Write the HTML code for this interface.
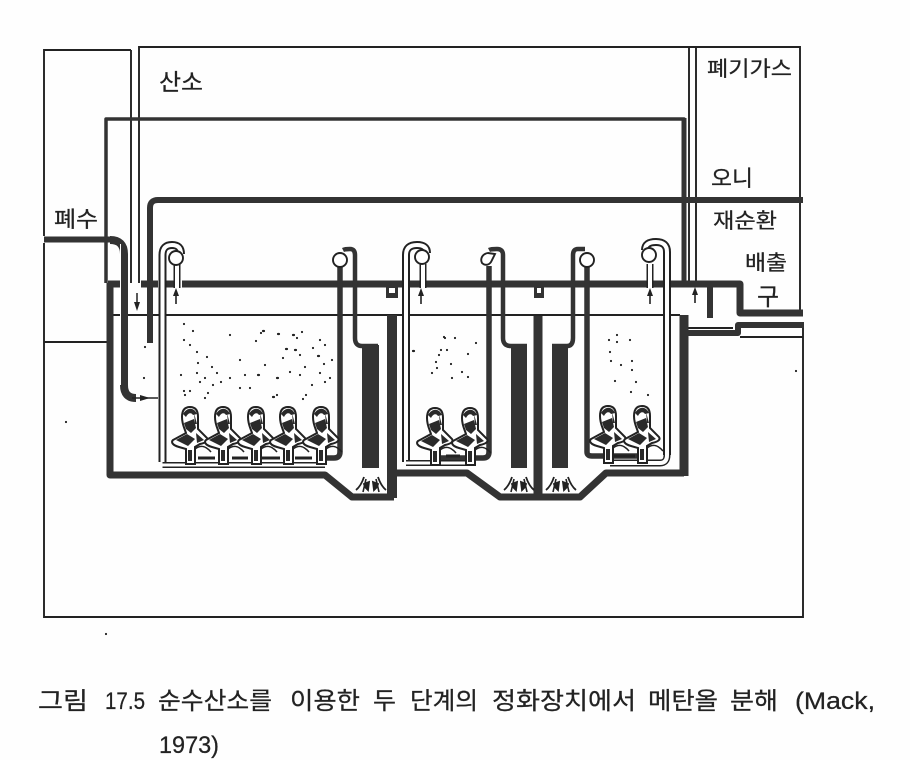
<!DOCTYPE html>
<html><head><meta charset="utf-8">
<style>
html,body{margin:0;padding:0;background:#fff}
svg{display:block}
text{font-family:"Liberation Sans","Noto Sans CJK KR",sans-serif;fill:#222;stroke:#222;stroke-width:.25}
</style></head>
<body>
<svg width="910" height="760" viewBox="0 0 910 760" xmlns="http://www.w3.org/2000/svg">
<rect width="910" height="760" fill="#fefefe"/>
<defs>
<g id="f">
<path d="M-4 -5C-6 -11 -8 -14 -8 -21C-8 -28 -5 -31 0 -31C5 -31 8 -28 8 -21L8 -9L17 0C19 3 15 5 10 6L5 9L5 26L-4 26L-4 11L-11 9C-18 7 -19 4 -17 2Z" fill="#fff" stroke="#222" stroke-width="2"/>
<path d="M-7 -24C-3 -31 4 -31 7 -24L3 -23C1 -26 -2 -25 -4 -21ZM-6 -15L4 -19L6 -10L1 -5L-4 -9ZM-14 2L-3 -4L5 1L-2 8ZM6 -5L14 2L7 5ZM-2 12L2 12L2 23L-2 23ZM4 -25L7 -14L5 -14Z" fill="#2a2a2a"/>
<path d="M5 11C10 7 15 7 21 14" fill="none" stroke="#222" stroke-width="1.6"/>
</g>
<g id="d" fill="none" stroke="#222" stroke-width="1.8">
<path d="M-15 10C-10 6 -8 0 -7 -3M15 10C10 6 8 0 7 -3"/>
<path d="M-5 -1L-8 12M5 -1L8 12" stroke-width="1.6"/>
<path d="M-7 4L-2 2L-3 10L-6 7ZM7 4L2 2L3 10L6 7Z" fill="#222"/>
</g>
<g id="up"><path d="M0 16V6" stroke="#222" stroke-width="1.6"/><path d="M-3 8L0 0L3 8Z" fill="#222"/></g>
</defs>

<!-- thin frames -->
<g fill="none" stroke="#222" stroke-width="1.9">
<path d="M44 236V50H131"/>
<path d="M44 243V617H803V325"/>
<path d="M139 283V47H800V313"/>
<path d="M131 50V283"/>
<path d="M689 47V283M696 47V283"/>
<path d="M44 342H107"/>
<path d="M110 315H160M166 315H680"/>
<path d="M688 328H733M740 337H803"/>
</g>

<!-- dark thick pipes -->
<g fill="none" stroke="#333" stroke-linejoin="round">
<path d="M106 283V119H684V283" stroke-width="3.500"/>
<path d="M684 118V283" stroke-width="5"/>
<path d="M803 200H158Q150 200 150 208V343" stroke-width="6"/>
<path d="M44 239.500H112" stroke-width="6"/>
<path d="M110 240Q124 240 124 254V385Q124 398 136 398" stroke-width="8"/>
<path d="M108 284H121M141 284H158M166 284H174M182 284H740V313H803" stroke-width="7"/>
<path d="M110 283V475H325L352 497H394" stroke-width="7"/>
<path d="M392 315V498" stroke-width="10"/>
<path d="M392 473H467L500 497H580L606 473H684" stroke-width="7"/>
<path d="M684 315V476" stroke-width="9"/>
<path d="M538 316V497" stroke-width="9"/>
<path d="M686 333H738V325H804" stroke-width="6"/>
<path d="M710 285V318" stroke-width="6"/>
<!-- tank 1 return -->
<path d="M340 266V452Q340 458 334 458H320" stroke-width="5.500"/>
<path d="M343 250Q345 249 350 249Q355 249 355 255V338Q355 346 362 346H378" stroke-width="4.500"/>
<!-- tank 2 return -->
<path d="M489 266V452Q489 458 483 458H440" stroke-width="5.500"/>
<path d="M489 250Q491 249 497 249Q503 249 503 255V338Q503 346 511 346H527" stroke-width="4.500"/>
<!-- tank 3 -->
<path d="M587 266V452Q587 456 592 456H642" stroke-width="5.500"/>
<path d="M585 249H578Q573 249 573 255V338Q573 346 567 346H552" stroke-width="4.500"/>
</g>
<!-- roof stubs -->
<g fill="#333">
<path d="M386 285H398V298H386Z"/>
<path d="M534 285H544V298H534Z"/>
</g>
<g fill="#fff">
<rect x="389" y="288" width="6" height="5"/>
<rect x="537" y="288" width="4" height="5"/>
</g>
<!-- wide bands -->
<g fill="#333">
<rect x="362" y="345" width="17" height="123"/>
<rect x="511" y="345" width="16" height="123"/>
<rect x="552" y="345" width="16" height="123"/>
</g>
<path d="M120.500 244V385" stroke="#fff" stroke-width="1"/>

<!-- double-line air lines -->
<g fill="none">
<path d="M162.500 462V255Q162.500 245 172 245Q181 245 181 254" stroke="#222" stroke-width="8"/>
<path d="M162.500 462V255Q162.500 245 172 245Q181 245 181 254" stroke="#fff" stroke-width="4"/>
<path d="M162.500 465H325" stroke="#222" stroke-width="6"/>
<path d="M160 465H325" stroke="#fff" stroke-width="3"/>
<path d="M406 462V255Q406 245 417 245Q427 245 427 253" stroke="#222" stroke-width="8"/>
<path d="M406 462V255Q406 245 417 245Q427 245 427 253" stroke="#fff" stroke-width="4"/>
<path d="M406 463H467" stroke="#222" stroke-width="6"/>
<path d="M404 463H467" stroke="#fff" stroke-width="3"/>
<path d="M667 455V252Q667 242 656 242Q645 242 645 250" stroke="#222" stroke-width="8"/>
<path d="M667 455V252Q667 242 656 242Q645 242 645 250" stroke="#fff" stroke-width="4"/>
<path d="M667 455Q667 463 660 463H610" stroke="#222" stroke-width="7"/>
<path d="M667 455Q667 463 660 463H610" stroke="#fff" stroke-width="4"/>
<path d="M177 264V288" stroke="#222" stroke-width="7"/>
<path d="M177 264V288" stroke="#fff" stroke-width="4"/>
<path d="M423 264V288" stroke="#222" stroke-width="7"/>
<path d="M423 264V288" stroke="#fff" stroke-width="4"/>
<path d="M650 264V288" stroke="#222" stroke-width="7"/>
<path d="M650 264V288" stroke="#fff" stroke-width="4"/>
</g>

<!-- pumps -->
<g fill="#fff" stroke="#222" stroke-width="1.900">
<circle cx="176" cy="258" r="7"/>
<circle cx="340" cy="260" r="7"/>
<circle cx="422" cy="257" r="7"/>
<path d="M488 253C482 254 480 259 482 263C485 266 489 265 491 262L495 254Z"/>
<circle cx="587" cy="260" r="7"/>
<circle cx="649" cy="255" r="7"/>
</g>

<!-- arrows -->
<use href="#up" x="176" y="288"/>
<use href="#up" x="421" y="288"/>
<use href="#up" x="650" y="288"/>
<use href="#up" x="695" y="287"/>
<path d="M137 293V304" stroke="#222" stroke-width="1.500"/>
<path d="M134 302L137 311L140 302Z" fill="#222"/>
<path d="M132 398H158" stroke="#222" stroke-width="1.500"/>
<path d="M140 395L150 398L140 401Z" fill="#222"/>

<!-- diffusers -->
<use href="#d" x="371" y="480"/>
<use href="#d" x="519" y="480"/>
<use href="#d" x="561" y="480"/>

<!-- figures -->
<use href="#f" x="190" y="438"/>
<use href="#f" x="223" y="438"/>
<use href="#f" x="256" y="438"/>
<use href="#f" x="288" y="438"/>
<use href="#f" x="321" y="438"/>
<use href="#f" x="435" y="439"/>
<use href="#f" x="470" y="439"/>
<use href="#f" x="608" y="437"/>
<use href="#f" x="642" y="437"/>
<path d="M198 458H215M232 458H248M262 458H280M295 458H312M446 456H460M612 456H635" stroke="#222" stroke-width="3"/>

<!-- bubbles -->
<path fill="none" stroke="#222" stroke-width="2.200" stroke-linecap="round" d="
M184 324h0M193 331h0M184 340h0M190 345h0M197 352h0M207 357h0M212 367h0M198 363h0M181 375h0M197 373h0M205 378h0M217 373h0M221 382h0
M230 335h0M261 333h0M256 341h0M263 331h1M278 334h1M293 335h1M297 338h0M302 332h0M286 349h1M295 350h1M313 348h0M318 356h1M324 364h0M300 375h0M305 367h0M290 372h0M277 378h1M258 375h1M245 375h0M230 378h0M240 360h0M265 365h0M283 358h0M300 355h0M325 382h0M312 385h0M306 395h0M303 399h0M277 395h0M273 397h1M250 388h0M240 388h0M208 393h0M190 391h0M184 391h0M205 398h0M213 385h0M200 382h0M185 395h0M320 373h0M330 378h0M332 360h0M325 345h0M320 340h0
M145 347h0M144 378h0M66 422h0M106 634h0M796 371h0
M444 337h0M445 338h0M455 338h0M476 343h0M413 351h1M441 350h0M447 350h0M451 364h0M468 354h0M439 355h0M436 362h0M437 368h0M432 373h0M452 378h0M462 372h0M468 377h0
M617 335h0M617 342h0M630 340h0M609 340h0M610 352h0M611 361h0M621 365h0M632 361h0M632 370h0M615 381h0M636 382h0M631 392h0M648 395h0"/>

<!-- labels -->
<text x="159" y="90" font-size="23" textLength="44" lengthAdjust="spacingAndGlyphs">산소</text>
<text x="707" y="76" font-size="21" textLength="85" lengthAdjust="spacingAndGlyphs">폐기가스</text>
<text x="711" y="186" font-size="22" textLength="42" lengthAdjust="spacingAndGlyphs">오니</text>
<text x="713" y="228" font-size="21" textLength="64" lengthAdjust="spacingAndGlyphs">재순환</text>
<text x="745" y="270" font-size="21" textLength="42" lengthAdjust="spacingAndGlyphs">배출</text>
<text x="757" y="305" font-size="24">구</text>
<text x="54" y="227" font-size="22" textLength="44" lengthAdjust="spacingAndGlyphs">폐수</text>
<g font-size="24">
<text x="38" y="709" textLength="50" lengthAdjust="spacingAndGlyphs">그림</text>
<text x="105" y="709" textLength="40" lengthAdjust="spacingAndGlyphs">17.5</text>
<text x="158" y="709" textLength="114" lengthAdjust="spacingAndGlyphs">순수산소를</text>
<text x="290" y="709" textLength="70" lengthAdjust="spacingAndGlyphs">이용한</text>
<text x="373" y="709" textLength="23" lengthAdjust="spacingAndGlyphs">두</text>
<text x="410" y="709" textLength="68" lengthAdjust="spacingAndGlyphs">단계의</text>
<text x="492" y="709" textLength="144" lengthAdjust="spacingAndGlyphs">정화장치에서</text>
<text x="648" y="709" textLength="70" lengthAdjust="spacingAndGlyphs">메탄올</text>
<text x="730" y="709" textLength="48" lengthAdjust="spacingAndGlyphs">분해</text>
<text x="795" y="709" textLength="80" lengthAdjust="spacingAndGlyphs">(Mack,</text>
<text x="159" y="753" textLength="60" lengthAdjust="spacingAndGlyphs">1973)</text>
</g>
</svg>
</body></html>
